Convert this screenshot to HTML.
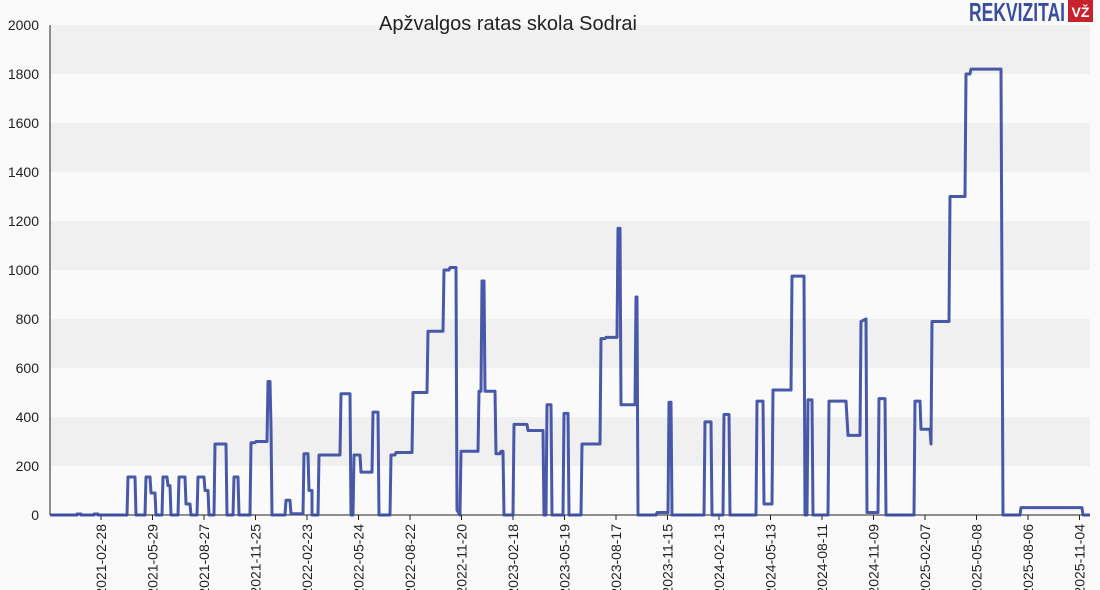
<!DOCTYPE html>
<html><head><meta charset="utf-8"><style>
body{margin:0;background:#fafafa;}
svg{display:block;font-family:"Liberation Sans",sans-serif;}
</style></head><body>
<svg width="1100" height="590" viewBox="0 0 1100 590">
<rect width="1100" height="590" fill="#fafafa"/>
<g fill="#f0f0f0">
<rect x="50" y="25" width="1040" height="49"/>
<rect x="50" y="123" width="1040" height="49"/>
<rect x="50" y="221" width="1040" height="49"/>
<rect x="50" y="319" width="1040" height="49"/>
<rect x="50" y="417" width="1040" height="49"/>
</g>
<text x="508" y="30" font-size="20" text-anchor="middle" fill="#222">Apžvalgos ratas skola Sodrai</text>
<text x="1065" y="21" font-size="26" font-weight="bold" text-anchor="end" fill="#3a4ea0" textLength="96" lengthAdjust="spacingAndGlyphs">REKVIZITAI</text>
<rect x="1068" y="0" width="25" height="22" fill="#c8232c"/>
<text x="1080.5" y="17" font-size="14" font-weight="bold" text-anchor="middle" fill="#fff">VŽ</text>
<g font-size="14" fill="#222" text-anchor="end">
<text x="39" y="520">0</text><text x="39" y="471">200</text><text x="39" y="422">400</text>
<text x="39" y="373">600</text><text x="39" y="324">800</text><text x="39" y="275">1000</text>
<text x="39" y="226">1200</text><text x="39" y="177">1400</text><text x="39" y="128">1600</text>
<text x="39" y="79">1800</text><text x="39" y="30">2000</text>
</g>
<line x1="50" y1="25" x2="50" y2="515" stroke="#222"/>
<line x1="50" y1="515" x2="1090" y2="515" stroke="#222"/>
<g stroke="#222">
<line x1="101" y1="515" x2="101" y2="520"/><line x1="152.5" y1="515" x2="152.5" y2="520"/>
<line x1="204" y1="515" x2="204" y2="520"/><line x1="255.5" y1="515" x2="255.5" y2="520"/>
<line x1="307" y1="515" x2="307" y2="520"/><line x1="358.5" y1="515" x2="358.5" y2="520"/>
<line x1="410" y1="515" x2="410" y2="520"/><line x1="461.5" y1="515" x2="461.5" y2="520"/>
<line x1="513" y1="515" x2="513" y2="520"/><line x1="564.5" y1="515" x2="564.5" y2="520"/>
<line x1="616" y1="515" x2="616" y2="520"/><line x1="667.5" y1="515" x2="667.5" y2="520"/>
<line x1="719" y1="515" x2="719" y2="520"/><line x1="770.5" y1="515" x2="770.5" y2="520"/>
<line x1="822" y1="515" x2="822" y2="520"/><line x1="873.5" y1="515" x2="873.5" y2="520"/>
<line x1="925" y1="515" x2="925" y2="520"/><line x1="976.5" y1="515" x2="976.5" y2="520"/>
<line x1="1028" y1="515" x2="1028" y2="520"/><line x1="1079.5" y1="515" x2="1079.5" y2="520"/>
</g>
<g font-size="14" fill="#222" text-anchor="end">
<text transform="translate(106,524) rotate(-90)">2021-02-28</text>
<text transform="translate(157.5,524) rotate(-90)">2021-05-29</text>
<text transform="translate(209,524) rotate(-90)">2021-08-27</text>
<text transform="translate(260.5,524) rotate(-90)">2021-11-25</text>
<text transform="translate(312,524) rotate(-90)">2022-02-23</text>
<text transform="translate(363.5,524) rotate(-90)">2022-05-24</text>
<text transform="translate(415,524) rotate(-90)">2022-08-22</text>
<text transform="translate(466.5,524) rotate(-90)">2022-11-20</text>
<text transform="translate(518,524) rotate(-90)">2023-02-18</text>
<text transform="translate(569.5,524) rotate(-90)">2023-05-19</text>
<text transform="translate(621,524) rotate(-90)">2023-08-17</text>
<text transform="translate(672.5,524) rotate(-90)">2023-11-15</text>
<text transform="translate(724,524) rotate(-90)">2024-02-13</text>
<text transform="translate(775.5,524) rotate(-90)">2024-05-13</text>
<text transform="translate(827,524) rotate(-90)">2024-08-11</text>
<text transform="translate(878.5,524) rotate(-90)">2024-11-09</text>
<text transform="translate(930,524) rotate(-90)">2025-02-07</text>
<text transform="translate(981.5,524) rotate(-90)">2025-05-08</text>
<text transform="translate(1033,524) rotate(-90)">2025-08-06</text>
<text transform="translate(1084.5,524) rotate(-90)">2025-11-04</text>
</g>
<g transform="translate(0,515) scale(1,-0.245)">
<polyline vector-effect="non-scaling-stroke" fill="none" stroke="#3447a0" stroke-opacity="0.9" stroke-width="3" stroke-linejoin="round"
points="50,0 77,0 77,4 81,4 81,0 94,0 94,4 98,4 98,0 127,0 128,155 135,155 136,0 145,0 146,155 150,155 151,90 155,90 156,0 162,0 163,155 167,155 168,120 170,120 171,0 178,0 179,155 185,155 186,45 190,45 191,0 197,0 198,155 204,155 205,100 208,100 209,0 214,0 215,290 226,290 227,0 233,0 234,155 238,155 239,0 250,0 251,295 255,295 256,300 267,300 268,545 270,545 271,360 272,0 285,0 286,60 290,60 291,5 303,5 304,250 308,250 309,100 312,100 312,0 318,0 319,245 340,245 341,495 350,495 351,0 353,0 354,245 360,245 361,175 372,175 373,420 378,420 379,0 390,0 391,245 395,245 396,255 412,255 413,500 427,500 428,750 443,750 444,1000 449,1000 450,1010 456,1010 457,20 460,0 461,260 478,260 479,505 481,505 482,955 484,955 485,505 495,505 496,250 500,250 501,260 503,260 504,0 513,0 514,370 527,370 528,345 543,345 544,0 546,0 547,450 551,450 552,0 563,0 564,415 568,415 569,0 581,0 582,290 600,290 601,720 605,720 606,725 617,725 618,1170 620,1170 621,450 635,450 636,890 637,890 638,0 656,0 657,10 668,10 669,460 671,460 672,0 704,0 705,380 711,380 712,0 723,0 724,410 729,410 730,0 756,0 757,465 763,465 764,45 772,45 773,510 791,510 792,975 804,975 805,0 807,0 808,470 812,470 813,0 828,0 829,465 845,465 846,465 848,325 860,325 861,790 866,800 867,10 878,10 879,475 885,475 886,0 914,0 915,465 920,465 921,350 930,350 931,290 932,790 949,790 950,1300 965,1300 966,1800 970,1800 971,1820 1001,1820 1003,0 1020,0 1021,30 1082,30 1083,0 1090,0"/>
</g>
</svg>
</body></html>
